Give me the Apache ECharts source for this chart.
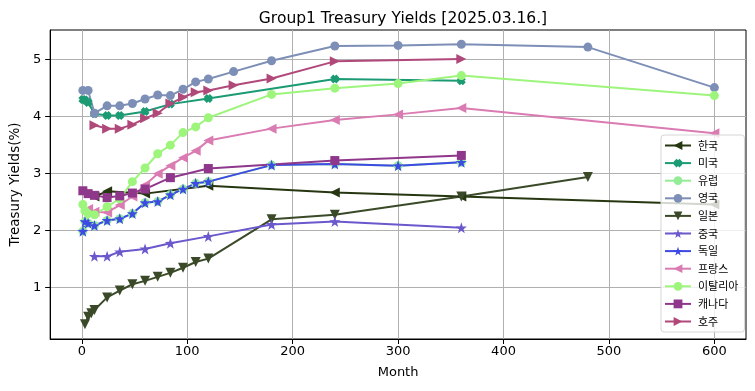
<!DOCTYPE html>
<html><head><meta charset="utf-8">
<script src="https://cdn.jsdelivr.net/npm/echarts@6/dist/echarts.min.js"></script>
<style>html,body{margin:0;padding:0;background:#fff}#c{width:755px;height:391px}</style>
</head><body><div id="c"></div>
<script>
const seriesNames = ['한국','미국','유럽','영국','일본','중국','독일','프랑스','이탈리아','캐나다','호주'];
const xTicks = [0,100,200,300,400,500,600];
const yTicks = [1,2,3,4,5];

const koreaMonths = [12, 24, 60, 120, 240, 360, 600];
const korea = [2.60, 2.69, 2.65, 2.79, 2.67, 2.60, 2.46];
const usMonths = [1, 3, 6, 12, 24, 36, 60, 84, 120, 240, 360];
const us = [4.30, 4.29, 4.25, 4.05, 4.02, 4.02, 4.09, 4.22, 4.32, 4.66, 4.63];
const euroMonths = [1, 3, 6, 12, 24, 36, 48, 60, 72, 84, 96, 108, 120, 180, 240, 300, 360];
const euro = [1.99, 2.16, 2.13, 2.09, 2.18, 2.21, 2.30, 2.49, 2.51, 2.63, 2.73, 2.83, 2.86, 3.15, 3.17, 3.14, 3.20];
const ukMonths = [1, 6, 12, 24, 36, 48, 60, 72, 84, 96, 108, 120, 144, 180, 240, 300, 360, 480, 600];
const uk = [4.46, 4.46, 4.06, 4.19, 4.19, 4.23, 4.31, 4.38, 4.37, 4.48, 4.61, 4.66, 4.79, 4.98, 5.24, 5.25, 5.27, 5.22, 4.51];
const japanMonths = [3, 6, 9, 12, 24, 36, 48, 60, 72, 84, 96, 108, 120, 180, 240, 360, 480];
const japan = [0.36, 0.49, 0.55, 0.61, 0.83, 0.95, 1.06, 1.12, 1.19, 1.26, 1.35, 1.45, 1.51, 2.20, 2.28, 2.60, 2.94];
const chinaMonths = [12, 24, 36, 60, 84, 120, 180, 240, 360];
const china = [1.55, 1.55, 1.63, 1.68, 1.78, 1.90, 2.11, 2.16, 2.05];
const germanyMonths = [1, 3, 6, 12, 24, 36, 48, 60, 72, 84, 96, 108, 120, 180, 240, 300, 360];
const germany = [1.99, 2.16, 2.13, 2.09, 2.18, 2.21, 2.30, 2.49, 2.51, 2.63, 2.73, 2.83, 2.86, 3.15, 3.17, 3.14, 3.20];
const franceMonths = [6, 12, 24, 36, 48, 60, 72, 84, 96, 108, 120, 180, 240, 300, 360, 600];
const france = [2.38, 2.33, 2.32, 2.45, 2.60, 2.80, 3.00, 3.14, 3.28, 3.40, 3.58, 3.79, 3.94, 4.04, 4.15, 3.71];
const italyMonths = [1, 3, 6, 12, 24, 36, 48, 60, 72, 84, 96, 108, 120, 180, 240, 300, 360, 600];
const italy = [2.46, 2.35, 2.30, 2.28, 2.42, 2.56, 2.86, 3.10, 3.35, 3.50, 3.72, 3.82, 3.98, 4.39, 4.50, 4.58, 4.72, 4.37];
const canadaMonths = [1, 6, 12, 24, 36, 48, 60, 84, 120, 240, 360];
const canada = [2.70, 2.65, 2.62, 2.58, 2.61, 2.66, 2.73, 2.93, 3.09, 3.23, 3.32];
const australiaMonths = [12, 24, 36, 48, 60, 72, 84, 96, 108, 120, 144, 180, 240, 360];
const australia = [3.85, 3.79, 3.79, 3.86, 3.97, 4.06, 4.23, 4.34, 4.43, 4.46, 4.55, 4.67, 4.97, 5.01];

const STAR = 'path://M0,-10 L2.35,-3.24 L9.51,-3.09 L3.8,1.24 L5.88,8.09 L0,4 L-5.88,8.09 L-3.8,1.24 L-9.51,-3.09 L-2.35,-3.24 Z';
const XSYM = 'path://M-1,-3 L0,-2 L1,-3 L3,-1 L2,0 L3,1 L1,3 L0,2 L-1,3 L-3,1 L-2,0 L-3,-1 Z';

const specs = [
  {m: koreaMonths, v: korea, color: '#263610', symbol: 'triangle', rot: 90, size: 10},
  {m: usMonths, v: us, color: '#1b9b73', symbol: XSYM, rot: 0, size: 9},
  {m: euroMonths, v: euro, color: '#94ec98', symbol: 'circle', rot: 0, size: 9},
  {m: ukMonths, v: uk, color: '#7d8fb6', symbol: 'circle', rot: 0, size: 9},
  {m: japanMonths, v: japan, color: '#3a4a28', symbol: 'triangle', rot: 180, size: 10},
  {m: chinaMonths, v: china, color: '#6a58cc', symbol: STAR, rot: 0, size: 11},
  {m: germanyMonths, v: germany, color: '#3d4ae4', symbol: STAR, rot: 0, size: 11},
  {m: franceMonths, v: france, color: '#da7bb2', symbol: 'triangle', rot: 90, size: 10},
  {m: italyMonths, v: italy, color: '#9df57c', symbol: 'circle', rot: 0, size: 9},
  {m: canadaMonths, v: canada, color: '#8f378b', symbol: 'rect', rot: 0, size: 9},
  {m: australiaMonths, v: australia, color: '#b0497a', symbol: 'triangle', rot: -90, size: 10}
];

const series = specs.map((s, i) => ({
  name: seriesNames[i],
  type: 'line',
  data: s.m.map((mm, j) => [mm, s.v[j]]),
  symbol: s.symbol,
  symbolRotate: s.rot,
  symbolSize: s.size,
  showAllSymbol: true,
  lineStyle: {color: s.color, width: 2},
  itemStyle: {color: s.color},
  emphasis: {disabled: true},
  animation: false
}));

const chart = echarts.init(document.getElementById('c'));
chart.setOption({
  animation: false,
  backgroundColor: '#fff',
  textStyle: {fontFamily: 'DejaVu Sans'},
  title: {
    text: 'Group1 Treasury Yields [2025.03.16.]',
    left: 398, top: 6, textAlign: 'center',
    textStyle: {fontFamily: 'DejaVu Sans', fontSize: 15.5, fontWeight: 'normal', color: '#000'}
  },
  grid: {left: 48, right: 9, top: 30, bottom: 52, show: true, borderColor: '#000', borderWidth: 1, backgroundColor: 'transparent'},
  legend: {
    orient: 'vertical', left: 661, top: 135,
    data: seriesNames,
    itemWidth: 26, itemHeight: 11, itemGap: 6.6,
    padding: [5, 6, 5, 3],
    backgroundColor: 'rgba(255,255,255,0.8)',
    borderColor: '#d6d6d6', borderWidth: 1, borderRadius: 3,
    textStyle: {fontFamily: 'Noto Sans CJK KR', fontSize: 11, color: '#000', padding: [0, 0, 0, 2]}
  },
  xAxis: {
    type: 'value', min: -30, max: 630,
    name: 'Month', nameLocation: 'middle', nameGap: 27,
    nameTextStyle: {fontFamily: 'DejaVu Sans', fontSize: 13, color: '#000'},
    axisLine: {show: true, onZero: false, lineStyle: {color: '#000'}},
    axisTick: {show: true, length: 5, lineStyle: {color: '#000'}, customValues: xTicks},
    axisLabel: {fontFamily: 'DejaVu Sans', fontSize: 13, color: '#000', margin: 6, customValues: xTicks},
    splitLine: {show: true, lineStyle: {color: '#b0b0b0', width: 1}}
  },
  yAxis: {
    type: 'value', min: 0.1, max: 5.52,
    name: 'Treasury Yields(%)', nameLocation: 'middle', nameGap: 25,
    nameTextStyle: {fontFamily: 'DejaVu Sans', fontSize: 13.5, color: '#000'},
    axisLine: {show: true, onZero: false, lineStyle: {color: '#000'}},
    axisTick: {show: true, length: 5, lineStyle: {color: '#000'}, customValues: yTicks},
    axisLabel: {fontFamily: 'DejaVu Sans', fontSize: 13, color: '#000', margin: 9, customValues: yTicks},
    splitLine: {show: true, lineStyle: {color: '#b0b0b0', width: 1}}
  },
  series: series
});
</script>
</body></html>
